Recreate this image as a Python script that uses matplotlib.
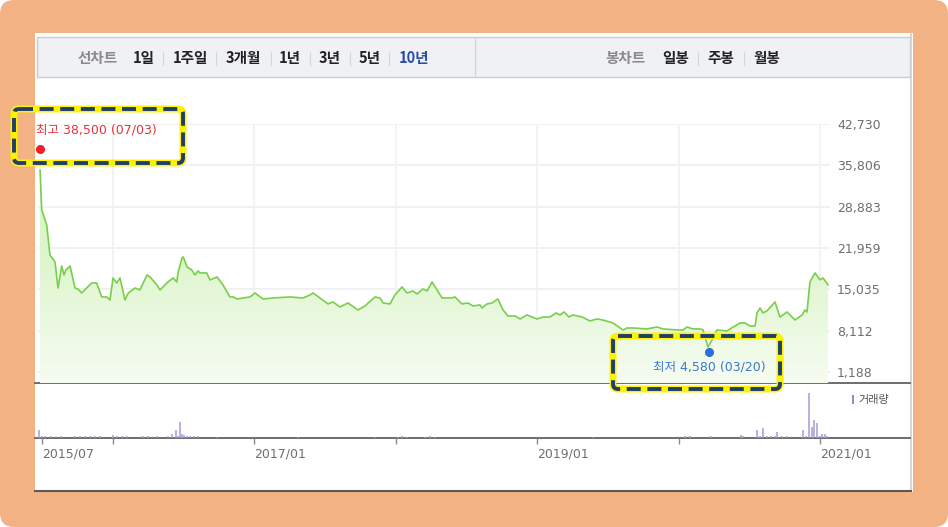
import numpy as np
import matplotlib
matplotlib.use("Agg")
import matplotlib.pyplot as plt
from matplotlib.patches import FancyBboxPatch, Rectangle
from matplotlib.colors import LinearSegmentedColormap

plt.rcParams['font.family'] = ['Noto Sans CJK KR', 'DejaVu Sans']
WIDE = ['DejaVu Sans', 'Noto Sans CJK KR']

# ---- data ----
years = [2015.488, 2015.500, 2015.535, 2015.558, 2015.594, 2015.615, 2015.641, 2015.657, 2015.671, 2015.700,
         2015.735, 2015.756, 2015.782, 2015.853, 2015.888, 2015.924, 2015.959, 2015.982, 2016.004, 2016.030,
         2016.053, 2016.088, 2016.112, 2016.159, 2016.194, 2016.244, 2016.265, 2016.314, 2016.336, 2016.392,
         2016.428, 2016.454, 2016.463, 2016.491, 2016.500, 2016.527, 2016.560, 2016.583, 2016.604, 2016.618,
         2016.666, 2016.689, 2016.739, 2016.781, 2016.830, 2016.854, 2016.880, 2016.972, 2017.007, 2017.064,
         2017.134, 2017.254, 2017.346, 2017.396, 2017.417, 2017.466, 2017.523, 2017.558, 2017.608, 2017.664,
         2017.735, 2017.784, 2017.855, 2017.890, 2017.912, 2017.961, 2017.996, 2018.046, 2018.081, 2018.124,
         2018.152, 2018.194, 2018.223, 2018.258, 2018.329, 2018.399, 2018.420, 2018.470, 2018.512, 2018.548,
         2018.597, 2018.611, 2018.647, 2018.682, 2018.724, 2018.760, 2018.795, 2018.845, 2018.880, 2018.929,
         2018.965, 2019.000, 2019.042, 2019.092, 2019.134, 2019.163, 2019.191, 2019.226, 2019.254, 2019.318,
         2019.375, 2019.424, 2019.466, 2019.537, 2019.608, 2019.636, 2019.678, 2019.777, 2019.848, 2019.890,
         2019.989, 2020.032, 2020.060, 2020.102, 2020.152, 2020.173, 2020.208, 2020.237, 2020.272, 2020.343,
         2020.364, 2020.435, 2020.470, 2020.505, 2020.541, 2020.555, 2020.576, 2020.597, 2020.625, 2020.682,
         2020.717, 2020.767, 2020.823, 2020.873, 2020.894, 2020.908, 2020.929, 2020.965, 2021.000, 2021.021,
         2021.057]
prices = [35040, 28340, 25820, 20790, 19620, 15260, 18950, 17440, 18280, 18950,
          15260, 15100, 14430, 16100, 16100, 13760, 13760, 13250, 16940, 16100,
          16940, 13250, 14430, 15260, 14930, 17440, 17110, 15770, 14930, 16270,
          16940, 16270, 17780, 20290, 20460, 18790, 18280, 17440, 18120, 17780,
          17780, 16610, 17110, 15770, 13760, 13760, 13420, 13760, 14430, 13420,
          13590, 13760, 13590, 14090, 14430, 13590, 12590, 12920, 12080, 12750,
          11580, 12250, 13760, 13590, 12750, 12590, 14090, 15430, 14430, 14760,
          14260, 15100, 14760, 16270, 13590, 13590, 13760, 12590, 12750, 12250,
          12420, 11910, 12590, 12750, 13420, 11580, 10570, 10570, 10070, 10740,
          10400, 10070, 10400, 10400, 11080, 10740, 11240, 10400, 10740, 10400,
          9740, 10070, 9900, 9400, 8230, 8560, 8560, 8400, 8730, 8400,
          8230, 8230, 8730, 8400, 8400, 8230, 5380, 6550, 8230, 8060,
          8400, 9400, 9400, 8900, 8900, 11080, 11910, 11080, 11420, 12920,
          10400, 11240, 9900, 10740, 11580, 11240, 16270, 17780, 16610, 16940,
          15770]

vol_years = [2015.481, 2015.502, 2015.523, 2015.565, 2015.636, 2015.735, 2015.770, 2015.806, 2015.841, 2015.876,
             2015.912, 2016.004, 2016.032, 2016.067, 2016.102, 2016.216, 2016.251, 2016.314, 2016.392, 2016.420,
             2016.449, 2016.463, 2016.477, 2016.491, 2016.505, 2016.527, 2016.548, 2016.576, 2016.604, 2016.739,
             2017.311, 2017.855, 2018.018, 2018.046, 2018.081, 2018.208, 2018.244, 2018.279, 2019.396, 2020.046,
             2020.081, 2020.230, 2020.442, 2020.456, 2020.555, 2020.576, 2020.597, 2020.625, 2020.654, 2020.682,
             2020.696, 2020.731, 2020.767, 2020.880, 2020.901, 2020.922, 2020.943, 2020.958, 2020.979, 2021.000,
             2021.014, 2021.035, 2021.049]
volumes = [87, 25, 22, 22, 22, 22, 22, 22, 22, 22,
           22, 30, 22, 22, 22, 22, 22, 22, 22, 44,
           87, 22, 175, 44, 30, 22, 22, 22, 22, 11,
           11, 11, 11, 22, 11, 11, 22, 11, 11, 22,
           22, 22, 33, 22, 87, 22, 109, 22, 22, 22,
           65, 22, 22, 87, 22, 490, 120, 196, 163, 22,
           44, 44, 22]

price_ticks = [1188, 8112, 15035, 21959, 28883, 35806, 42730]
year_lines = [2016, 2017, 2018, 2019, 2020, 2021]
x_ticks = [2015.5, 2016, 2017, 2018, 2019, 2020, 2021]
x_labels = ['2015/07', '', '2017/01', '', '2019/01', '', '2021/01']

high_pt = (2015.488, 38500, '최고 38,500 (07/03)')
low_pt = (2020.215, 4580, '최저 4,580 (03/20)')

W, H = 948, 527
fig = plt.figure(figsize=(W / 100, H / 100), dpi=100)
fig.patch.set_facecolor('white')


def frac(x0, y0, x1, y1):
    return [x0 / W, 1 - y1 / H, (x1 - x0) / W, (y1 - y0) / H]


# background canvas in pixel units
bg = fig.add_axes([0, 0, 1, 1], zorder=0)
bg.set_xlim(0, W)
bg.set_ylim(H, 0)
bg.axis('off')
bg.add_patch(FancyBboxPatch((0, 0), W, H, boxstyle='round,pad=0,rounding_size=14',
                            facecolor='#F3B284', edgecolor='none'))
bg.add_patch(Rectangle((35, 33), 878, 459, facecolor='white', edgecolor='none'))
bg.plot([911, 911], [33, 490], color='#CFCFCF', lw=1.2)
bg.plot([35, 911], [491, 491], color='#5A5A5A', lw=1.5)

# header bar
bg.add_patch(Rectangle((37, 37), 873, 40, facecolor='#F0F1F5', edgecolor='#C9CCD2', lw=1))
bg.plot([475, 475], [37, 77], color='#D3D5DA', lw=1)
hdr_kw = dict(fontsize=10.5, fontweight='bold', ha='center', va='center')
bg.text(98, 58, '선차트', color='#8A8A8A', **hdr_kw)
for label, cx in [('1일', 144), ('1주일', 190), ('3개월', 243), ('1년', 290), ('3년', 330), ('5년', 370)]:
    bg.text(cx, 58, label, color='#222222', **hdr_kw)
bg.text(414, 58, '10년', color='#2B4CA6', **hdr_kw)
bg.text(625, 58, '봉차트', color='#8A8A8A', **hdr_kw)
for label, cx in [('일봉', 676), ('주봉', 721), ('월봉', 767)]:
    bg.text(cx, 58, label, color='#222222', **hdr_kw)
for sx in [163, 216, 271, 310, 350, 389, 698, 744]:
    bg.plot([sx, sx], [52, 65], color='#D6D6D6', lw=0.8)

# separators between panels
bg.plot([35, 910], [383, 383], color='#6E6E6E', lw=1.4)
bg.plot([35, 910], [438, 438], color='#6E6E6E', lw=1.4)

# volume legend
bg.add_patch(Rectangle((852, 395), 2.5, 9, facecolor='#9A86CF', edgecolor='none'))
bg.text(858, 400, '거래량', fontsize=8, color='#555555', va='center', ha='left')

x_lo = 2017 + (38 - 254) / 141.5
x_hi = 2017 + (830 - 254) / 141.5

# ---- price chart ----
ax = fig.add_axes(frac(38, 124, 830, 383), zorder=1)
ax.patch.set_alpha(0)
for s in ax.spines.values():
    s.set_visible(False)
for v in price_ticks:
    ax.axhline(v, color='#EFEFEF', lw=1.2, zorder=0)
for v in year_lines:
    ax.axvline(v, color='#F1F1F1', lw=1.2, zorder=0)

poly = ax.fill_between(years, prices, -656, color='none', lw=0)
grad = LinearSegmentedColormap.from_list('g', ['#F6FCF1', '#DDF5CC', '#D6F3C2'])
img = ax.imshow(np.linspace(0, 1, 256).reshape(-1, 1), cmap=grad, origin='lower', aspect='auto',
                extent=[x_lo, x_hi, -656, 42730], zorder=1)
img.set_clip_path(poly.get_paths()[0], transform=ax.transData)
ax.set_xlim(x_lo, x_hi)
ax.set_ylim(-656, 42730)
ax.plot(years, prices, color='#78CF4B', lw=1.2, zorder=2)

ax.set_xticks([])
ax.yaxis.tick_right()
ax.set_yticks(price_ticks)
ax.set_yticklabels([f'{v:,}' for v in price_ticks], family=WIDE)
ax.tick_params(axis='y', length=0, pad=5, labelsize=9, labelcolor='#6E6E6E')

# high / low markers
ax.plot(high_pt[0], high_pt[1], 'o', color='#F01E28', ms=5.5, zorder=3, clip_on=False)
ax.annotate(high_pt[2], (high_pt[0], high_pt[1]), xytext=(-3, 14), textcoords='offset points',
            fontsize=9, family=WIDE, color='#E8323A', ha='left', va='center')
ax.plot(low_pt[0], low_pt[1], 'o', color='#2A6FD9', ms=5.5, zorder=3)
ax.annotate(low_pt[2], (low_pt[0], low_pt[1]), xytext=(0, -11), textcoords='offset points',
            fontsize=9, family=WIDE, color='#3A78D0', ha='center', va='center')

# ---- volume chart ----
axv = fig.add_axes(frac(38, 383, 830, 438), zorder=1)
axv.patch.set_alpha(0)
axv.vlines(vol_years, 0, volumes, color='#A897D8', lw=1.1)
axv.set_xlim(x_lo, x_hi)
axv.set_ylim(0, 600)
for s in axv.spines.values():
    s.set_visible(False)
axv.set_yticks([])
axv.set_xticks(x_ticks)
axv.set_xticklabels(x_labels, family=WIDE)
for t in axv.get_xticklabels():
    t.set_ha('left')
axv.tick_params(axis='x', length=4, width=1, color='#8A8A8A', pad=3, labelsize=9, labelcolor='#6E6E6E')

# ---- highlight boxes ----
ov = fig.add_axes([0, 0, 1, 1], zorder=5)
ov.set_xlim(0, W)
ov.set_ylim(H, 0)
ov.axis('off')
ov.patch.set_alpha(0)
for (bx0, by0, bx1, by1) in [(14, 109, 183, 163), (613, 336, 780, 389)]:
    ov.add_patch(FancyBboxPatch((bx0, by0), bx1 - bx0, by1 - by0, boxstyle='round,pad=0,rounding_size=5',
                                facecolor='none', edgecolor='#FFF200', lw=5))
    ov.add_patch(FancyBboxPatch((bx0, by0), bx1 - bx0, by1 - by0, boxstyle='round,pad=0,rounding_size=5',
                                facecolor='none', edgecolor='#1F3F66', lw=2.8,
                                linestyle=(0, (3.6, 1.7))))

fig.savefig('out.png', dpi=100)
